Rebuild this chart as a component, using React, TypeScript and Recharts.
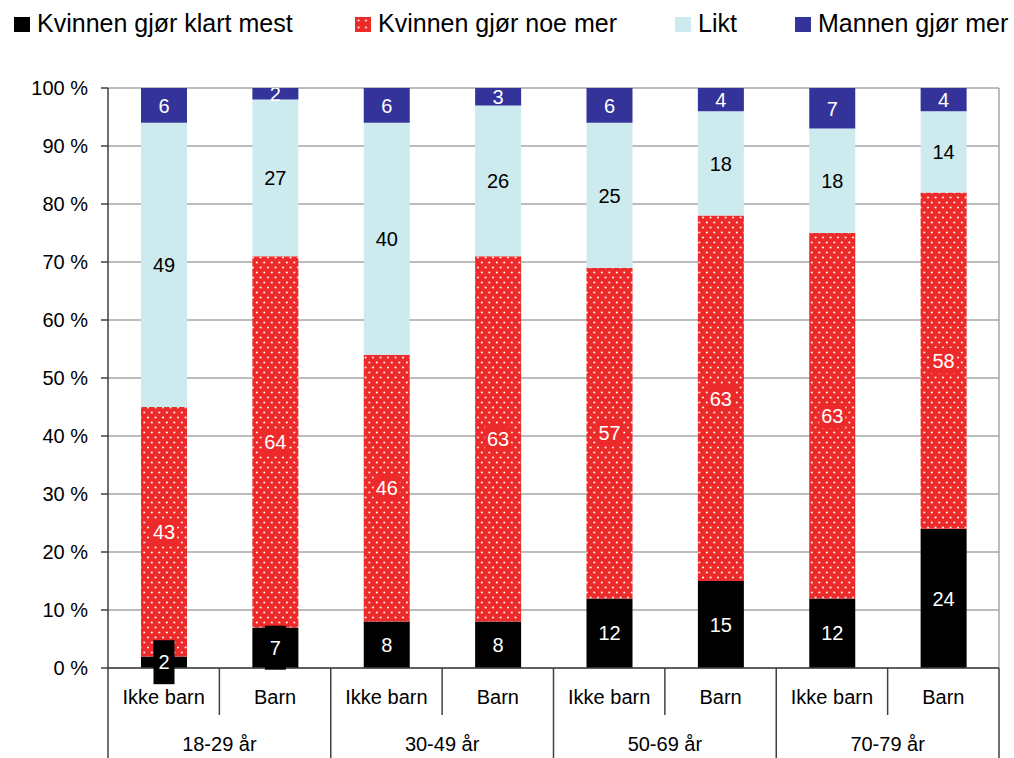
import React from 'react';
import { BarChart, Bar, XAxis, YAxis, CartesianGrid, LabelList } from 'recharts';

const subGroups = ['Ikke barn', 'Barn', 'Ikke barn', 'Barn', 'Ikke barn', 'Barn', 'Ikke barn', 'Barn'];
const ageGroups = ['18-29 år', '30-49 år', '50-69 år', '70-79 år'];
const klartMest = [2, 7, 8, 8, 12, 15, 12, 24];
const noeMer = [43, 64, 46, 63, 57, 63, 63, 58];
const likt = [49, 27, 40, 26, 25, 18, 18, 14];
const mannenMer = [6, 2, 6, 3, 6, 4, 7, 4];
const yTicks = [0, 10, 20, 30, 40, 50, 60, 70, 80, 90, 100];

const seriesNames = ['Kvinnen gjør klart mest', 'Kvinnen gjør noe mer', 'Likt', 'Mannen gjør mer'];

const WIDTH = 1014;
const HEIGHT = 758;
const MARGIN = { top: 88, right: 15, bottom: 0, left: 0 };
const Y_AXIS_W = 108;
const X_AXIS_H = 90;
const PLOT_LEFT = MARGIN.left + Y_AXIS_W;
const PLOT_RIGHT = WIDTH - MARGIN.right;
const PLOT_BOTTOM = HEIGHT - MARGIN.bottom - X_AXIS_H;
const BAND = (PLOT_RIGHT - PLOT_LEFT) / subGroups.length;

const FONT = '"Liberation Sans", Arial, sans-serif';
const BLACK = '#000000';
const RED = '#ED2A2A';
const LIGHT = '#CDEBEF';
const BLUE = '#333399';
const AXIS = '#404040';

const data = subGroups.map((name, i) => ({
  name,
  group: ageGroups[Math.floor(i / 2)],
  klartMest: klartMest[i],
  noeMer: noeMer[i],
  likt: likt[i],
  mannenMer: mannenMer[i],
}));

// data label with a box in the series colour behind it (like the Excel original)
const makeLabel = (textColor: string, boxFill: string | null, boxH: number, pad: number) => (props: any) => {
  const { x, y, width, height, value } = props;
  const cx = Number(x) + Number(width) / 2;
  const cy = Number(y) + Number(height) / 2;
  const w = String(value).length * 11 + pad;
  return (
    <g clipPath="url(#labelClip)">
      {boxFill && <rect x={cx - w / 2} y={cy - boxH / 2} width={w} height={boxH} fill={boxFill} />}
      <text x={cx} y={cy} dy="0.36em" textAnchor="middle" fill={textColor} fontSize={20} fontFamily={FONT}>
        {value}
      </text>
    </g>
  );
};

const CategoryTick = (props: any) => {
  const { x, payload, index } = props;
  const right = x + BAND / 2;
  const left = x - BAND / 2;
  const groupEnd = index % 2 === 1;
  return (
    <g>
      <text x={x} y={PLOT_BOTTOM + 36} textAnchor="middle" fontSize={20} fontFamily={FONT} fill="#000">
        {payload.value}
      </text>
      <line x1={right} y1={PLOT_BOTTOM} x2={right} y2={groupEnd ? HEIGHT : PLOT_BOTTOM + 47} stroke={AXIS} strokeWidth={1.5} />
      {index === 0 && <line x1={left} y1={PLOT_BOTTOM} x2={left} y2={HEIGHT} stroke={AXIS} strokeWidth={1.5} />}
      {groupEnd && (
        <text x={left} y={PLOT_BOTTOM + 83} textAnchor="middle" fontSize={20} fontFamily={FONT} fill="#000">
          {ageGroups[Math.floor(index / 2)]}
        </text>
      )}
    </g>
  );
};

const LegendSwatch = ({ fill }: { fill: string }) => (
  <svg width={16} height={15} style={{ position: 'absolute', left: -23, top: 9 }}>
    <defs>
      <pattern id="legendDots" width={7.5} height={7} patternUnits="userSpaceOnUse">
        <rect width={7.5} height={7} fill={RED} />
        <circle cx={3.5} cy={3.5} r={1} fill="#fff" />
      </pattern>
    </defs>
    <rect width={16} height={15} fill={fill} />
  </svg>
);

const legendX = [37, 378, 698, 818];
const legendFills = [BLACK, 'url(#legendDots)', LIGHT, BLUE];

export default function App() {
  return (
    <div style={{ position: 'absolute', left: 0, top: 0, width: WIDTH, height: HEIGHT, background: '#fff', fontFamily: FONT }}>
      <div style={{ position: 'absolute', left: 0, top: 0, width: WIDTH, height: 50 }}>
        {seriesNames.map((n, i) => (
          <div
            key={n}
            style={{ position: 'absolute', left: legendX[i], top: 8, fontSize: 25, lineHeight: '30px', color: '#000', whiteSpace: 'nowrap' }}
          >
            <LegendSwatch fill={legendFills[i]} />
            {n}
          </div>
        ))}
      </div>
      <BarChart width={WIDTH} height={HEIGHT} data={data} margin={MARGIN} barSize={46} style={{ position: 'absolute', left: 0, top: 0 }}>
        <defs>
          <pattern id="redDots" width={7.5} height={10} patternUnits="userSpaceOnUse">
            <rect width={7.5} height={10} fill={RED} />
            <circle cx={1.8} cy={2.5} r={1} fill="#fff" />
            <circle cx={5.55} cy={7.5} r={1} fill="#fff" />
          </pattern>
          <clipPath id="labelClip">
            <rect x={0} y={MARGIN.top} width={WIDTH} height={HEIGHT - MARGIN.top} />
          </clipPath>
        </defs>
        <CartesianGrid
          vertical={true}
          verticalPoints={[PLOT_RIGHT]}
          stroke="#A6A6A6"
          strokeWidth={1.5}
        />
        <XAxis
          dataKey="name"
          interval={0}
          height={X_AXIS_H}
          tickLine={false}
          axisLine={{ stroke: AXIS, strokeWidth: 1.5 }}
          tick={<CategoryTick />}
        />
        <YAxis
          width={Y_AXIS_W}
          domain={[0, 100]}
          ticks={yTicks}
          allowDataOverflow
          tickFormatter={(v: number) => `${v} %`}
          tick={{ fontSize: 20, fill: '#000', fontFamily: FONT }}
          tickSize={7}
          tickMargin={13}
          tickLine={{ stroke: AXIS, strokeWidth: 1.5 }}
          axisLine={{ stroke: AXIS, strokeWidth: 1.5 }}
        />
        <Bar dataKey="klartMest" stackId="a" fill={BLACK} isAnimationActive={false}>
          <LabelList dataKey="klartMest" content={makeLabel('#fff', BLACK, 44, 10)} />
        </Bar>
        <Bar dataKey="noeMer" stackId="a" fill="url(#redDots)" isAnimationActive={false}>
          <LabelList dataKey="noeMer" content={makeLabel('#fff', RED, 25, 4)} />
        </Bar>
        <Bar dataKey="likt" stackId="a" fill={LIGHT} isAnimationActive={false}>
          <LabelList dataKey="likt" content={makeLabel('#000', null, 0, 0)} />
        </Bar>
        <Bar dataKey="mannenMer" stackId="a" fill={BLUE} isAnimationActive={false}>
          <LabelList dataKey="mannenMer" content={makeLabel('#fff', null, 0, 0)} />
        </Bar>
      </BarChart>
    </div>
  );
}
